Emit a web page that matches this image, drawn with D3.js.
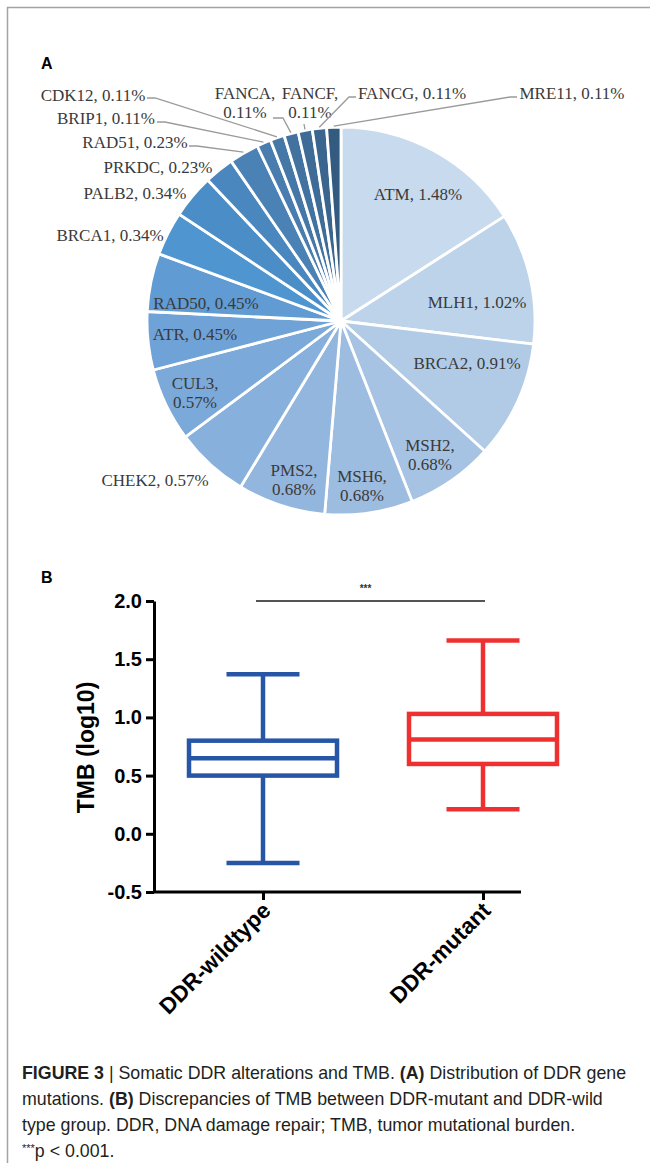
<!DOCTYPE html>
<html><head><meta charset="utf-8">
<script src="https://cdn.jsdelivr.net/npm/d3@7"></script>
<style>body{margin:0;background:#fff}svg{display:block}</style>
</head><body><svg id="c" width="650" height="1163"></svg>
<script>
// ---------- Data: Panel A ----------
const genes = ["ATM","MLH1","BRCA2","MSH2","MSH6","PMS2","CHEK2","CUL3","ATR","RAD50","BRCA1","PALB2","PRKDC","RAD51","BRIP1","CDK12","FANCA","FANCF","FANCG","MRE11"];
const percents = [1.48,1.02,0.91,0.68,0.68,0.68,0.57,0.57,0.45,0.45,0.34,0.34,0.23,0.23,0.11,0.11,0.11,0.11,0.11,0.11];
const sliceColors = ["#c8daed","#bdd3ea","#b1cbe6","#a6c3e3","#9cbce0","#93b6de","#87b0dc","#7ba9d9","#6fa2d6","#609bd3","#4f96d1","#4b8ec7","#4a87be","#4b82b5","#4a7daf","#4678a7","#42729f","#3e6c97","#3a658e","#335b80"];
// ---------- Data: Panel B ----------
const groups = ["DDR-wildtype","DDR-mutant"];
const whiskerLow = [-0.25, 0.21];
const q1 = [0.50, 0.60];
const medians = [0.65, 0.81];
const q3 = [0.80, 1.03];
const whiskerHigh = [1.37, 1.66];
const groupColors = ["#2756a6","#ee3030"];
const yTicks = [-0.5, 0.0, 0.5, 1.0, 1.5, 2.0];

// ---------- Layout ----------
const svg = d3.select("#c");
svg.append("path").attr("d","M7.5,1163V7.5H650").attr("fill","none").attr("stroke","#a3a3a3").attr("stroke-width",1.5);

svg.append("text").attr("x",41).attr("y",69).text("A")
  .attr("font-family","Liberation Sans, Arial, sans-serif").attr("font-weight","bold").attr("font-size",16);
svg.append("text").attr("x",41).attr("y",583).text("B")
  .attr("font-family","Liberation Sans, Arial, sans-serif").attr("font-weight","bold").attr("font-size",16);

// ---------- Pie ----------
const cx = 341, cy = 321, R = 194;
const pieData = d3.pie().sort(null).value(d => d)(percents);
const arc = d3.arc().innerRadius(0).outerRadius(R);
const edge = d3.arc().innerRadius(R + 1).outerRadius(R + 1);
const gp = svg.append("g").attr("transform", `translate(${cx},${cy})`);
gp.selectAll("path.slice").data(pieData).join("path").attr("class","slice")
  .attr("d", arc).attr("fill", (d,i) => sliceColors[i])
  .attr("stroke","#fff").attr("stroke-width",2.8).attr("stroke-linejoin","round");

const labelLayout = [
  {x:418,y:200},               // ATM
  {x:477,y:308},               // MLH1
  {x:467,y:369},               // BRCA2
  {x:430,y:451,split:true},    // MSH2
  {x:362,y:482,split:true},    // MSH6
  {x:294,y:476,split:true},    // PMS2
  {x:155,y:486},               // CHEK2
  {x:195,y:389,split:true},    // CUL3
  {x:195,y:340},               // ATR
  {x:206,y:309},               // RAD50
  {x:110,y:241},               // BRCA1
  {x:135,y:199},               // PALB2
  {x:158,y:173},               // PRKDC
  {x:135,y:148,leader:[[189,146],[197,146]]}, // RAD51
  {x:106,y:124,leader:[[157,122],[165,122]]}, // BRIP1
  {x:93,y:101,leader:[[147,98],[155,98]]},    // CDK12
  {x:245,y:99,split:true,leader:[[273,118],[283,118]]}, // FANCA
  {x:310,y:99,split:true,leader:[[304,124]]},          // FANCF
  {x:412,y:99,leader:[[356,97],[349,97]]},             // FANCG
  {x:572,y:99,leader:[[517,97],[510,97]]}              // MRE11
];

const fmt = d3.format(".2f");
const labelG = svg.append("g").attr("font-family","Liberation Serif, 'Times New Roman', serif")
  .attr("font-size",17).attr("fill","#3a3a3a").attr("text-anchor","middle");
pieData.forEach((d,i) => {
  const L = labelLayout[i];
  const name = genes[i] + ",";
  const val = fmt(percents[i]) + "%";
  const t = labelG.append("text").attr("x",L.x).attr("y",L.y);
  if (L.split) {
    t.append("tspan").attr("x",L.x).text(name);
    t.append("tspan").attr("x",L.x).attr("dy",19).text(val);
  } else {
    t.text(name + " " + val);
  }
  if (L.leader) {
    const c = edge.centroid(d);
    const pts = L.leader.concat([[cx + c[0], cy + c[1]]]);
    svg.append("path").attr("d", d3.line()(pts)).attr("fill","none")
      .attr("stroke","#9a9a9a").attr("stroke-width",1.3);
  }
});

// ---------- Box plot ----------
const x = d3.scalePoint().domain(groups).range([263, 483]);
const y = d3.scaleLinear().domain([-0.5, 2.0]).range([892, 601]);
const axisX0 = 154, axisX1 = 521;
const boxW = 148, capW = 73;

const axisFont = "Liberation Sans, Arial, sans-serif";
const yAxis = svg.append("g").attr("transform",`translate(${axisX0},0)`)
  .call(d3.axisLeft(y).tickValues(yTicks).tickFormat(d => d.toFixed(1)).tickSize(8).tickSizeOuter(0).tickPadding(4));
yAxis.select(".domain").attr("stroke","#000").attr("stroke-width",3);
yAxis.selectAll(".tick line").attr("stroke","#000").attr("stroke-width",3);
yAxis.selectAll(".tick text").attr("font-family",axisFont).attr("font-weight","bold").attr("font-size",20).attr("fill","#000");

const xAxis = svg.append("g").attr("transform",`translate(0,${y(-0.5)})`)
  .call(d3.axisBottom(x).tickSize(8).tickSizeOuter(0).tickFormat(""));
xAxis.select(".domain").attr("d",`M${axisX0},0H${axisX1}`).attr("stroke","#000").attr("stroke-width",3);
xAxis.selectAll(".tick line").attr("stroke","#000").attr("stroke-width",3);

svg.append("g").selectAll("text").data(groups).join("text")
  .attr("transform", d => `translate(${x(d)+9},${y(-0.5)+20}) rotate(-45)`)
  .attr("text-anchor","end").attr("font-family",axisFont).attr("font-weight","bold")
  .attr("font-size",22.5).attr("fill","#000").text(d => d);

svg.append("text").attr("transform",`translate(94,${(y(2)+y(-0.5))/2 + 1}) rotate(-90)`)
  .attr("text-anchor","middle").attr("font-family",axisFont).attr("font-weight","bold")
  .attr("font-size",23).attr("fill","#000").text("TMB (log10)");

const boxes = svg.append("g").attr("fill","none").attr("stroke-width",4.5);
groups.forEach((g,i) => {
  const cxg = x(g), col = groupColors[i];
  const b = boxes.append("g").attr("stroke",col);
  b.append("line").attr("x1",cxg).attr("x2",cxg).attr("y1",y(whiskerHigh[i])).attr("y2",y(q3[i]));
  b.append("line").attr("x1",cxg).attr("x2",cxg).attr("y1",y(q1[i])).attr("y2",y(whiskerLow[i]));
  b.append("line").attr("x1",cxg-capW/2).attr("x2",cxg+capW/2).attr("y1",y(whiskerHigh[i])).attr("y2",y(whiskerHigh[i]));
  b.append("line").attr("x1",cxg-capW/2).attr("x2",cxg+capW/2).attr("y1",y(whiskerLow[i])).attr("y2",y(whiskerLow[i]));
  b.append("rect").attr("x",cxg-boxW/2).attr("width",boxW).attr("y",y(q3[i])).attr("height",y(q1[i])-y(q3[i]));
  b.append("line").attr("x1",cxg-boxW/2).attr("x2",cxg+boxW/2).attr("y1",y(medians[i])).attr("y2",y(medians[i]));
});

const sx0 = x(groups[0]) - 7, sx1 = x(groups[1]) + 2;
svg.append("line").attr("x1",sx0).attr("x2",sx1).attr("y1",y(2.0)).attr("y2",y(2.0))
  .attr("stroke","#555").attr("stroke-width",2);
svg.append("text").attr("x",(sx0+sx1)/2 - 5).attr("y",y(2.0)-9).attr("text-anchor","middle")
  .attr("font-family",axisFont).attr("font-weight","bold").attr("font-size",10).attr("fill","#333").text("***");

// ---------- Caption ----------
const cap = svg.append("g").attr("font-family","Liberation Sans, Arial, sans-serif").attr("font-size",17.8).attr("fill","#231f20");
const capLines = [
  [["FIGURE 3",true],[" | Somatic DDR alterations and TMB. ",false],["(A)",true],[" Distribution of DDR gene",false]],
  [["mutations. ",false],["(B)",true],[" Discrepancies of TMB between DDR-mutant and DDR-wild",false]],
  [["type group. DDR, DNA damage repair; TMB, tumor mutational burden.",false]],
  [["***",false],["p < 0.001.",false]]
];
const capY = [1079, 1105, 1131, 1157];
capLines.forEach((ln,i) => {
  const t = cap.append("text").attr("x",22).attr("y",capY[i]);
  ln.forEach(([s,b],j) => {
    const ts = t.append("tspan").text(s).attr("font-weight", b ? "bold" : "normal");
    if (i===3 && j===0) ts.attr("font-size",11).attr("dy",-5);
    if (i===3 && j===1) ts.attr("dy",5);
  });
});
</script></body></html>
